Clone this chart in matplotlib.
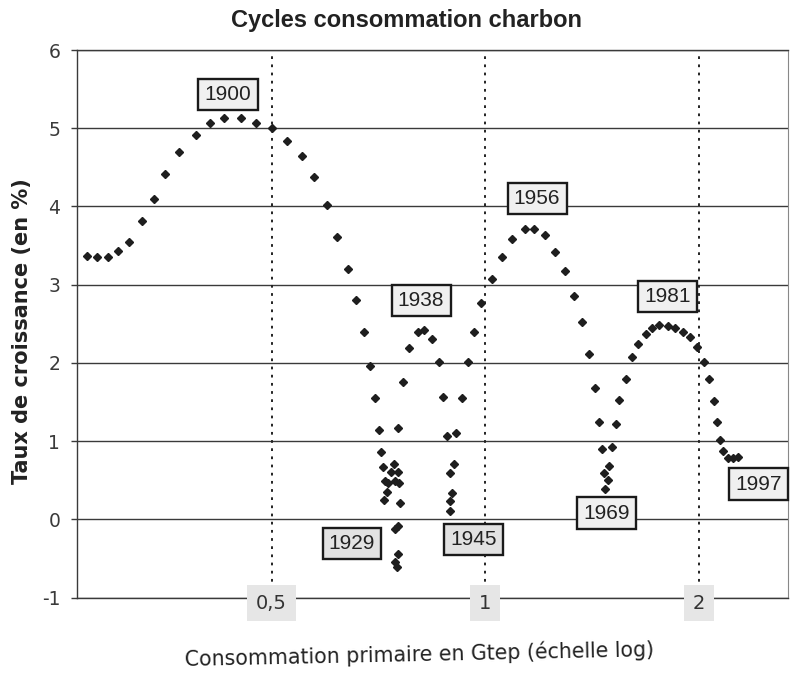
import matplotlib
matplotlib.use("Agg")
import matplotlib.pyplot as plt

# ---- data ----
consumption_gtep = [
    0.275, 0.284, 0.294, 0.304, 0.315, 0.328, 0.341, 0.354, 0.370, 0.391,
    0.409, 0.429, 0.453, 0.475, 0.500, 0.525, 0.551, 0.574, 0.598, 0.619,
    0.640, 0.657, 0.675, 0.689, 0.699, 0.708, 0.714, 0.717, 0.723, 0.729,
    0.726, 0.721, 0.744, 0.737, 0.753, 0.747, 0.755, 0.758, 0.747, 0.753,
    0.753, 0.745, 0.750, 0.753, 0.767, 0.782, 0.803, 0.820, 0.842, 0.861,
    0.873, 0.884, 0.909, 0.903, 0.891, 0.899, 0.891, 0.891, 0.926, 0.945,
    0.963, 0.987, 1.023, 1.056, 1.091, 1.136, 1.172, 1.214, 1.254, 1.296,
    1.332, 1.370, 1.399, 1.428, 1.448, 1.460, 1.495, 1.468, 1.488, 1.475,
    1.508, 1.528, 1.545, 1.579, 1.608, 1.640, 1.683, 1.717, 1.759, 1.807,
    1.849, 1.897, 1.941, 1.989, 2.033, 2.064, 2.102, 2.121, 2.142, 2.165,
    2.198, 2.234, 2.270,
]
growth_pct = [
    3.37, 3.35, 3.35, 3.43, 3.55, 3.81, 4.10, 4.41, 4.69, 4.92,
    5.07, 5.13, 5.13, 5.07, 5.00, 4.84, 4.64, 4.38, 4.02, 3.61,
    3.20, 2.81, 2.39, 1.96, 1.55, 1.14, 0.86, 0.67, 0.49, 0.46,
    0.35, 0.25, 0.71, 0.60, 0.60, 0.49, 0.46, 0.21, -0.12, -0.09,
    -0.44, -0.54, -0.61, 1.17, 1.75, 2.19, 2.40, 2.42, 2.30, 2.01,
    1.57, 1.06, 1.11, 0.71, 0.59, 0.34, 0.23, 0.11, 1.55, 2.01,
    2.39, 2.76, 3.07, 3.35, 3.58, 3.71, 3.71, 3.64, 3.42, 3.17,
    2.86, 2.52, 2.11, 1.68, 1.24, 0.90, 0.68, 0.59, 0.50, 0.39,
    0.93, 1.22, 1.52, 1.80, 2.07, 2.24, 2.37, 2.45, 2.48, 2.47,
    2.44, 2.40, 2.33, 2.20, 2.01, 1.79, 1.51, 1.24, 1.01, 0.87,
    0.79, 0.79, 0.80,
]

year_labels = ["1900", "1938", "1956", "1929", "1945", "1969", "1981", "1997"]
year_label_x = [0.434, 0.812, 1.183, 0.649, 0.964, 1.484, 1.806, 2.430]
year_label_y = [5.43, 2.80, 4.10, -0.31, -0.26, 0.08, 2.85, 0.45]

xtick_values = [0.5, 1, 2]
xtick_labels = ["0,5", "1", "2"]
ytick_values = [-1, 0, 1, 2, 3, 4, 5, 6]

title = "Cycles consommation charbon"
xlabel = "Consommation primaire en Gtep (échelle log)"
ylabel = "Taux de croissance (en %)"

# ---- figure ----
fig = plt.figure(figsize=(7.98, 6.76), dpi=100)
ax = fig.add_axes([0.0965, 0.116, 0.891, 0.810])
ax.set_xscale("log")
ax.set_xlim(0.266, 2.67)
ax.set_ylim(-1, 6)

grid_color = "#3a3a3a"
for yv in ytick_values:
    ax.axhline(yv, color=grid_color, lw=1.0, zorder=1)
for xv in xtick_values:
    ax.axvline(xv, color="#222222", lw=1.4, linestyle=(0, (1.4, 2.8)), zorder=1)

ax.plot(consumption_gtep, growth_pct, linestyle="none", marker="D",
        markersize=3.6, color="#1e1e1e", zorder=3)

for t, xv, yv in zip(year_labels, year_label_x, year_label_y):
    fc = "#e2e2e2" if t in ("1929", "1945") else "#f0f0f0"
    ax.text(xv, yv, t, ha="center", va="center", fontsize=15,
            family="Liberation Sans", color="#222222", zorder=5,
            bbox=dict(boxstyle="square,pad=0.3", facecolor=fc,
                      edgecolor="#1a1a1a", linewidth=1.7))

# spines
for s in ("top", "bottom", "left"):
    ax.spines[s].set_color(grid_color)
    ax.spines[s].set_linewidth(1.0)
ax.spines["right"].set_color("#888888")
ax.spines["right"].set_linewidth(0.8)
ax.spines["right"].set_linestyle((0, (1, 1)))

ax.set_xticks([])
ax.xaxis.set_minor_locator(matplotlib.ticker.NullLocator())
ax.set_yticks(ytick_values)
ax.set_yticklabels([str(v) for v in ytick_values], family="DejaVu Sans",
                   fontsize=13.5, color="#3a3a3a")
ax.tick_params(axis="y", length=4, width=1, color=grid_color, pad=8)

for xv, lab in zip(xtick_values, xtick_labels):
    ax.text(xv, -1.07, lab, ha="center", va="center", fontsize=14,
            family="DejaVu Sans", color="#333333", zorder=6, clip_on=False,
            bbox=dict(boxstyle="square,pad=0.45", facecolor="#e6e6e6",
                      edgecolor="none"))

fig.text(0.51, 0.970, title, ha="center", va="center", fontsize=17,
         fontweight="bold", family="Liberation Sans", color="#222222")
fig.text(0.028, 0.51, ylabel, ha="center", va="center", rotation=90,
         fontsize=15, fontweight="bold", family="DejaVu Sans", color="#222222")
fig.text(0.526, 0.032, xlabel, ha="center", va="center", rotation=1.2,
         fontsize=14.8, family="DejaVu Sans", color="#222222")

fig.savefig("out.png", dpi=100, facecolor="white")
